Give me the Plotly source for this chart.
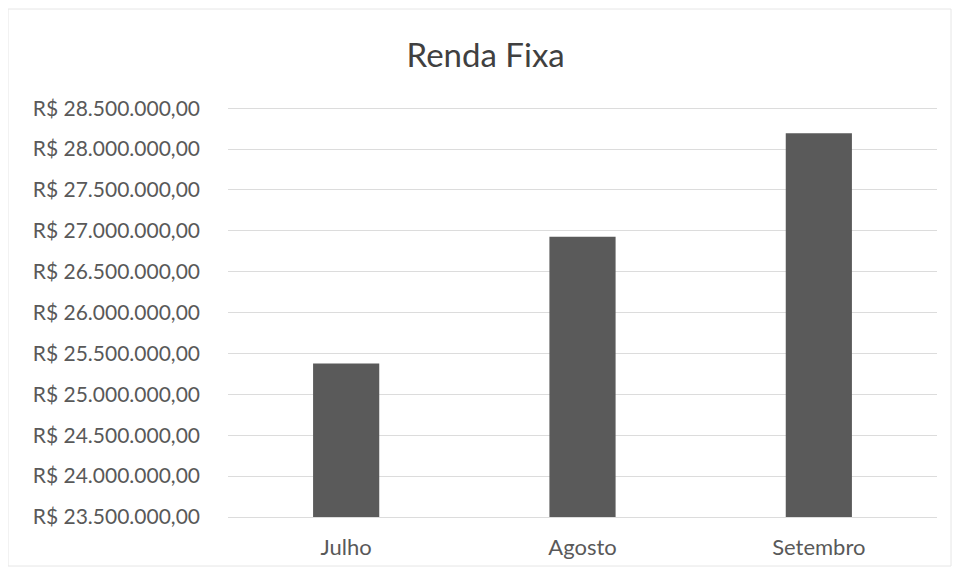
import plotly.graph_objects as go

categories = ["Julho", "Agosto", "Setembro"]
values = [25378000, 26927000, 28195000]
tick_values = [23500000, 24000000, 24500000, 25000000, 25500000, 26000000,
               26500000, 27000000, 27500000, 28000000, 28500000]


def brl(v):
    s = f"{v:,.2f}"
    s = s.replace(",", "X").replace(".", ",").replace("X", ".")
    return "R$ " + s


tick_text = [brl(v) for v in tick_values]

W, H = 944, 559
L, R, T, B = 220, 15, 99, 50
PW, PH = W - L - R, H - T - B

fig = go.Figure()
fig.add_trace(go.Bar(
    x=categories,
    y=values,
    marker=dict(color="#5a5a5a", line=dict(width=0)),
    hoverinfo="skip",
))

fig.update_layout(
    width=W,
    height=H,
    paper_bgcolor="white",
    plot_bgcolor="white",
    showlegend=False,
    bargap=0.72,
    margin=dict(l=L, r=R, t=T, b=B, autoexpand=False),
    title=dict(
        text="Renda Fixa",
        x=0.506,
        xanchor="center",
        y=0.916,
        yanchor="middle",
        font=dict(family="Lato, Open Sans, sans-serif", size=33, color="#404040"),
    ),
    font=dict(family="Lato, Open Sans, sans-serif", color="#595959"),
)

fig.update_yaxes(
    range=[23500000, 28515000],
    tickvals=tick_values,
    ticktext=tick_text,
    tickfont=dict(size=21, color="#595959"),
    showgrid=True,
    gridcolor="#dcdcdc",
    gridwidth=1,
    zeroline=False,
    showline=False,
    ticks="",
    ticklabelstandoff=27,
    automargin=False,
)

fig.update_xaxes(
    tickfont=dict(size=22, color="#595959"),
    showgrid=False,
    showline=True,
    linecolor="#dcdcdc",
    linewidth=1,
    ticks="",
    ticklabelstandoff=11,
    automargin=False,
)

fig.add_shape(
    type="rect",
    xref="paper", yref="paper",
    x0=(0 - L) / PW, x1=(W - 1 - L) / PW,
    y0=(1 - B) / PH, y1=(H - 1 - B) / PH,
    line=dict(color="#e6e6e6", width=1),
    fillcolor="rgba(0,0,0,0)",
    layer="below",
)

fig.write_html("out.html")
